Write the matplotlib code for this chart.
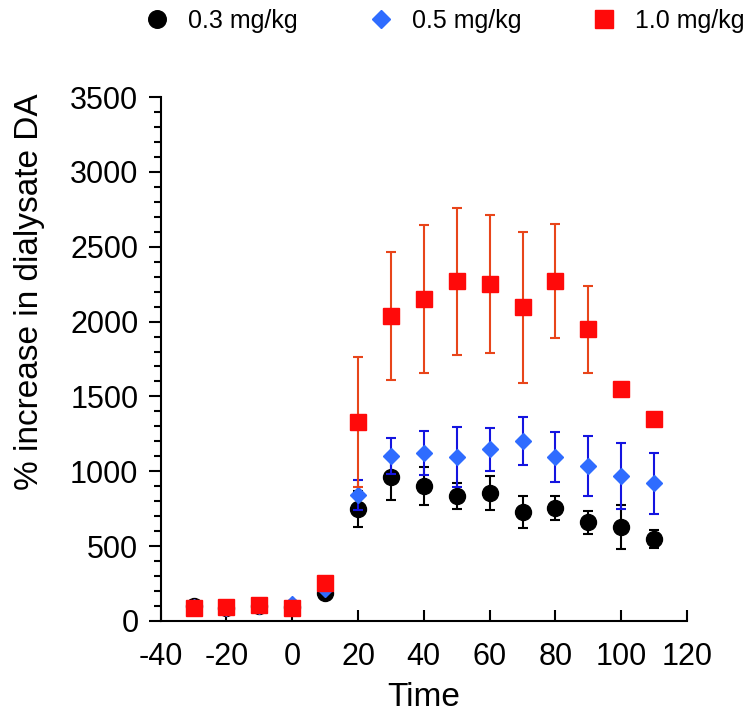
import numpy as np
import matplotlib.pyplot as plt
from matplotlib.ticker import MultipleLocator

plt.rcParams['font.family'] = ['Liberation Sans', 'DejaVu Sans']
plt.rcParams['axes.unicode_minus'] = False

# Sampling times (min) relative to injection
time = [-30, -20, -10, 0, 10, 20, 30, 40, 50, 60, 70, 80, 90, 100, 110]

# Mean % increase in dialysate DA and SEM per dose
da_03 = [100, 90, 100, 95, 184, 747, 962, 902, 835, 855, 729, 755, 658, 629, 545]
sem_03 = [10, 10, 10, 10, 15, 118, 155, 126, 84, 112, 108, 82, 77, 146, 60]

da_05 = [95, 90, 100, 115, 211, 840, 1102, 1125, 1095, 1147, 1202, 1095, 1035, 969, 920]
sem_05 = [10, 10, 10, 10, 15, 100, 120, 147, 201, 145, 161, 165, 200, 220, 204]

da_10 = [84, 93, 107, 84, 256, 1329, 2038, 2151, 2269, 2251, 2095, 2269, 1949, 1551, 1347]
sem_10 = [10, 10, 10, 10, 20, 435, 425, 495, 491, 460, 505, 380, 291, 40, 40]

labels = ['0.3 mg/kg', '0.5 mg/kg', '1.0 mg/kg']

fig = plt.figure(figsize=(7.47, 7.15), dpi=100)
ax = fig.add_axes([0.215, 0.1315, 0.7047, 0.7328])

styles = [
    (da_03, sem_03, 'o', 11.5, 'black', 'black'),
    (da_05, sem_05, 'D', 8.2, '#2f6cff', '#1414e0'),
    (da_10, sem_10, 's', 11.5, '#ff0a0a', '#e8451a'),
]
handles = []
for i, (y, err, mk, ms, fc, ec) in enumerate(styles):
    ax.errorbar(time, y, yerr=err, fmt='none', ecolor=ec, elinewidth=1.5,
                capsize=3.5, capthick=1.5, zorder=2 + 2 * i)
    h, = ax.plot(time, y, ls='none', marker=mk, ms=ms, mfc=fc, mec=fc,
                 zorder=3 + 2 * i)
    handles.append(h)

ax.set_xlim(-40, 120)
ax.set_ylim(0, 3500)
ax.xaxis.set_major_locator(MultipleLocator(20))
ax.yaxis.set_major_locator(MultipleLocator(500))
ax.yaxis.set_minor_locator(MultipleLocator(100))

for side in ('top', 'right'):
    ax.spines[side].set_visible(False)
for side in ('left', 'bottom'):
    ax.spines[side].set_linewidth(1.5)

ax.tick_params(axis='x', direction='in', length=8, width=1.5, labelsize=22, pad=15)
ax.tick_params(axis='y', which='major', direction='out', length=9, width=1.5,
               labelsize=22, pad=7)
ax.tick_params(axis='y', which='minor', direction='out', length=5, width=1.5)

ax.set_xlabel('Time', fontsize=24, labelpad=7)
ax.set_ylabel('% increase in dialysate DA', fontsize=24)
ax.yaxis.set_label_coords(-0.22, 0.629)

fig.legend(handles, labels, loc='center', bbox_to_anchor=(0.595, 0.971), ncol=3,
           frameon=False, fontsize=18, handlelength=1.0, handletextpad=0.74,
           columnspacing=2.8, borderaxespad=0, markerscale=1.1)

fig.savefig('out.png', dpi=100)
